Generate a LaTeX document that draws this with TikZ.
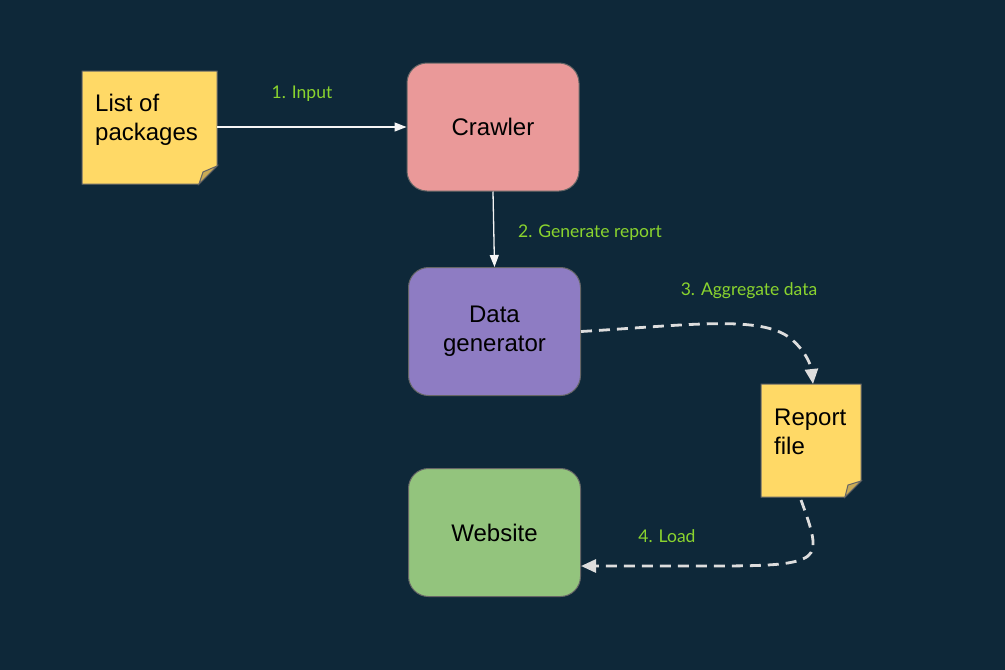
\documentclass[tikz,border=0pt]{standalone}
\usepackage{fontspec}
\setmainfont{Liberation Sans}
\newfontfamily\labelfont{Lato}
\usetikzlibrary{arrows.meta}
\definecolor{bg}{HTML}{0E2839}
\definecolor{notey}{HTML}{FFD966}
\definecolor{foldy}{HTML}{C9AA55}
\definecolor{crawl}{HTML}{EA9999}
\definecolor{datag}{HTML}{8E7CC3}
\definecolor{webg}{HTML}{93C47D}
\definecolor{edgegray}{HTML}{666666}
\definecolor{lblgreen}{HTML}{8AD42E}
\definecolor{dashgray}{HTML}{DDDDDD}
\tikzset{
  x=1pt, y=-1pt,
  procbox/.style={draw=edgegray, line width=1pt, rounded corners=20pt, minimum width=172pt, minimum height=128pt, inner sep=0pt, align=center, font=\fontsize{24}{29}\selectfont, text=black},
  notetext/.style={anchor=north west, align=left, font=\fontsize{24}{29}\selectfont, text=black, inner sep=0pt},
  lbl/.style={font=\labelfont\fontsize{17.5}{21}\selectfont, text=lblgreen, inner sep=0pt},
  thinarrow/.style={draw=white!92!gray, line width=1.3pt, -{Triangle[length=12pt,width=9pt]}},
  dasharrow/.style={draw=dashgray, line width=2.8pt, dash pattern=on 11pt off 7pt, -{Triangle[length=15pt,width=13pt]}},
}
\begin{document}
\begin{tikzpicture}
\fill[bg] (0,0) rectangle (1005,670);
\useasboundingbox (0,0) rectangle (1005,670);

% List of packages note
\filldraw[fill=notey, draw=edgegray, line width=1pt] (82,71) -- (217,71) -- (217,166) -- (199,184) -- (82,184) -- cycle;
\filldraw[fill=foldy, draw=edgegray, line width=1pt] (199,184) -- (203,172) -- (217,166) -- cycle;
\node[notetext] (list) at (95,94) {List of\\packages};
\coordinate (listE) at (217,127);

% Report file note
\filldraw[fill=notey, draw=edgegray, line width=1pt] (761,384) -- (861,384) -- (861,481) -- (845,497) -- (761,497) -- cycle;
\filldraw[fill=foldy, draw=edgegray, line width=1pt] (845,497) -- (848,485) -- (861,481) -- cycle;
\node[notetext] (report) at (774,409) {Report\\file};
\coordinate (repN) at (813,384);
\coordinate (repS) at (801,500);

% Process boxes
\node[procbox, fill=crawl] (crawler) at (493,127) {\raisebox{-2pt}{Crawler}};
\node[procbox, fill=datag] (datagen) at (494.5,331.5) {\raisebox{-2pt}{Data}\\\raisebox{-2pt}{generator}};
\node[procbox, fill=webg] (website) at (494.5,532.5) {\raisebox{-1pt}{Website}};

% Connectors
\draw[thinarrow] (listE) -- (crawler.west);
\draw[thinarrow] (crawler.south) -- (datagen.north);
\draw[dasharrow] (datagen.east) .. controls (690,325) and (760,315) .. (790,338) .. controls (805,350) and (811,365) .. (repN);
\draw[dasharrow] (repS) .. controls (812,530) and (818,548) .. (808,556) .. controls (795,566) and (760,566) .. (700,566) -- (website.east |- 0,566);

% Labels
\node[lbl] (l1) at (302,94) {1. Input};
\node[lbl] (l2) at (590,233) {2. Generate report};
\node[lbl] (l3) at (749,291) {3. Aggregate data};
\node[lbl] (l4) at (667,536) {4. Load};
\end{tikzpicture}
\end{document}
